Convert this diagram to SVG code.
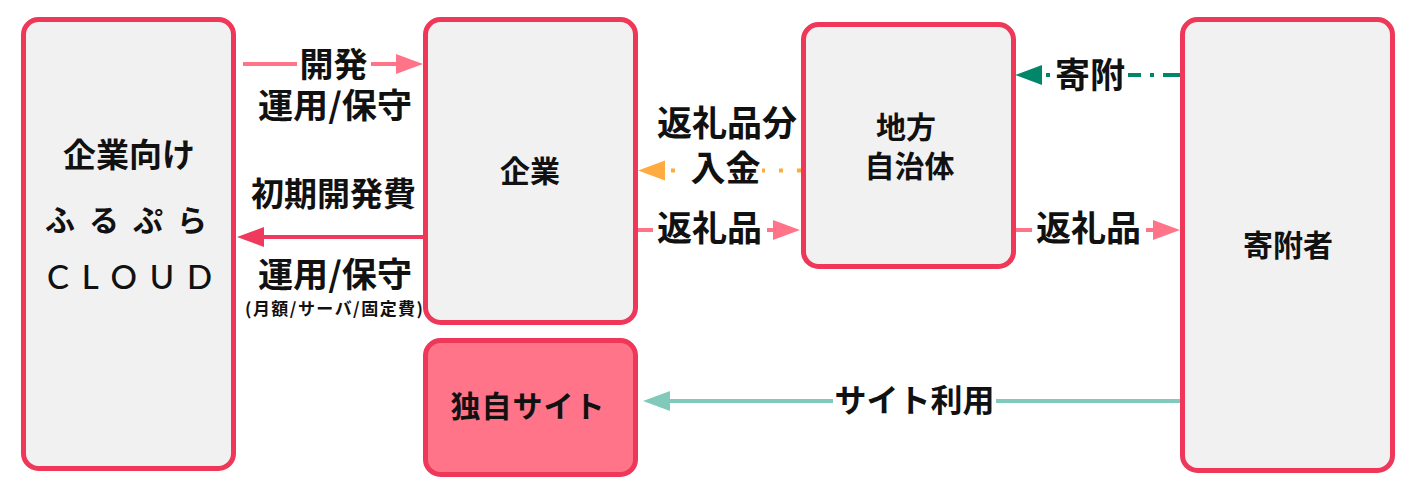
<svg xmlns="http://www.w3.org/2000/svg" width="1411" height="489" viewBox="0 0 1411 489">
<style>
.node{fill:#F1F1F1;stroke:#EF3759;stroke-width:5}
.nt{font-family:"Noto Sans CJK JP","Noto Sans",sans-serif;font-weight:700;fill:#111;text-anchor:middle}
.lb{font-family:"Noto Sans CJK JP","Noto Sans",sans-serif;font-weight:700;fill:#111;text-anchor:middle;font-size:34px}
.lb35{font-size:35px}
.bg{fill:#FFFFFF}
</style>
<defs>
<marker id="mPink" markerUnits="userSpaceOnUse" markerWidth="28" markerHeight="22" refX="12" refY="10" orient="auto"><path d="M0,0 L27,10 L0,20 z" fill="#FF7489"/></marker>
<marker id="mRed" markerUnits="userSpaceOnUse" markerWidth="28" markerHeight="22" refX="12" refY="10" orient="auto"><path d="M0,0 L27,10 L0,20 z" fill="#EF3A5D"/></marker>
<marker id="mOrange" markerUnits="userSpaceOnUse" markerWidth="28" markerHeight="22" refX="12" refY="10" orient="auto"><path d="M0,0 L27,10 L0,20 z" fill="#FFAB40"/></marker>
<marker id="mTeal" markerUnits="userSpaceOnUse" markerWidth="28" markerHeight="22" refX="12" refY="10" orient="auto"><path d="M0,0 L27,10 L0,20 z" fill="#00876A"/></marker>
<marker id="mLTeal" markerUnits="userSpaceOnUse" markerWidth="28" markerHeight="22" refX="12" refY="10" orient="auto"><path d="M0,0 L27,10 L0,20 z" fill="#80C9BB"/></marker>
</defs>
<rect width="1411" height="489" fill="#FFFFFF"/>

<g id="connectors">
  <g id="e-kaihatsu">
    <line x1="243" y1="64" x2="408" y2="64" stroke="#FF7489" stroke-width="4" marker-end="url(#mPink)"/>
    <rect class="bg" x="297" y="47" width="74" height="34"/>
    <text class="lb" x="333.5" y="76.5">開発</text>
    <text class="lb" x="335" y="118" textLength="154" lengthAdjust="spacingAndGlyphs" style="text-anchor:start" dx="-77">運用/保守</text>
  </g>
  <g id="e-shoki">
    <line x1="425" y1="237" x2="252" y2="237" stroke="#EF3A5D" stroke-width="4" marker-end="url(#mRed)"/>
    <text class="lb" x="333.5" y="206" style="font-size:33px">初期開発費</text>
    <text class="lb" x="258" y="287" textLength="154" lengthAdjust="spacingAndGlyphs" style="text-anchor:start">運用/保守</text>
    <text class="lb" x="245" y="315" style="font-size:17px;text-anchor:start" textLength="178" lengthAdjust="spacing">(月額/サーバ/固定費)</text>
  </g>
  <g id="e-nyukin">
    <line x1="801" y1="170.5" x2="653" y2="170.5" stroke="#FFAB40" stroke-width="4" stroke-dasharray="4 14" marker-end="url(#mOrange)"/>
    <rect class="bg" x="688" y="151" width="74" height="34"/>
    <text class="lb lb35" x="727" y="135.5">返礼品分</text>
    <text class="lb lb35" x="725.5" y="180.5">入金</text>
  </g>
  <g id="e-henrei1">
    <line x1="638" y1="230" x2="785" y2="230" stroke="#FF7489" stroke-width="4" marker-end="url(#mPink)"/>
    <rect class="bg" x="653" y="211" width="114" height="36"/>
    <text class="lb lb35" x="709.5" y="240.5">返礼品</text>
  </g>
  <g id="e-kifu">
    <line x1="1180" y1="75" x2="1030" y2="75" stroke="#00876A" stroke-width="4" stroke-dasharray="17 9 4 9" marker-end="url(#mTeal)"/>
    <rect class="bg" x="1050" y="57" width="78" height="36"/>
    <text class="lb lb35" x="1090" y="88">寄附</text>
  </g>
  <g id="e-henrei2">
    <line x1="1016" y1="230" x2="1165" y2="230" stroke="#FF7489" stroke-width="4" marker-end="url(#mPink)"/>
    <rect class="bg" x="1032" y="211" width="114" height="36"/>
    <text class="lb lb35" x="1088.5" y="241">返礼品</text>
  </g>
  <g id="e-site">
    <line x1="1180" y1="401" x2="658" y2="401" stroke="#80C9BB" stroke-width="4" marker-end="url(#mLTeal)"/>
    <rect class="bg" x="833" y="384" width="163" height="34"/>
    <text class="lb" x="914.5" y="412" style="font-size:32px">サイト利用</text>
  </g>
</g>

<g id="n-furupura">
  <rect class="node" x="23.5" y="19.5" width="210" height="449" rx="15"/>
  <text class="nt" x="129" y="166.5" font-size="33">企業向け</text>
  <text class="nt" x="45" y="231" font-size="30" style="text-anchor:start;font-weight:700" textLength="162" lengthAdjust="spacing">ふるぷら</text>
  <text x="47" y="289" font-family="Lato, 'Liberation Sans', sans-serif" font-size="33" font-weight="500" fill="#111" textLength="165" lengthAdjust="spacing">CLOUD</text>
</g>
<g id="n-kigyo">
  <rect class="node" x="425.5" y="19.5" width="210" height="303" rx="15"/>
  <text class="nt" x="530" y="181.5" font-size="30">企業</text>
</g>
<g id="n-site">
  <rect x="425.5" y="340.5" width="210" height="134" rx="15" fill="#FF7489" stroke="#EF3759" stroke-width="5"/>
  <text class="nt" x="528" y="417" font-size="30" letter-spacing="1">独自サイト</text>
</g>
<g id="n-jichitai">
  <rect class="node" x="803.5" y="24.5" width="210" height="242" rx="15"/>
  <text class="nt" x="906" y="137.5" font-size="30">地方</text>
  <text class="nt" x="909.5" y="176.5" font-size="30">自治体</text>
</g>
<g id="n-kifusha">
  <rect class="node" x="1182.5" y="19.5" width="210" height="451" rx="15"/>
  <text class="nt" x="1288" y="255.5" font-size="30">寄附者</text>
</g>
</svg>
